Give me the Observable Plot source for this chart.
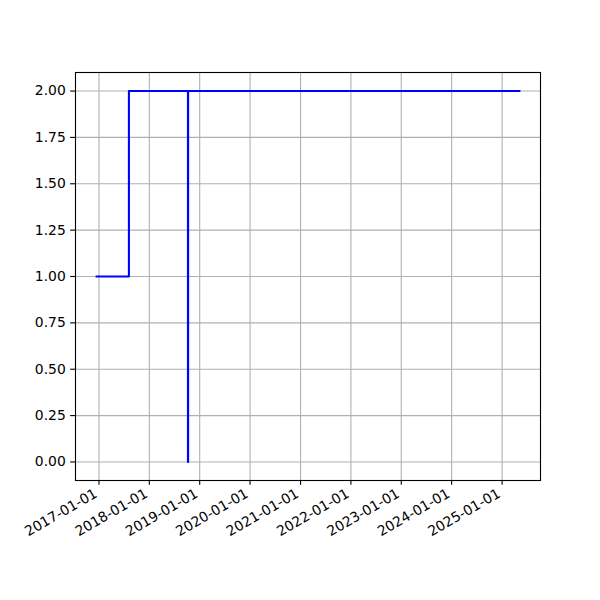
<!DOCTYPE html>
<html>
<head>
<meta charset="utf-8">
<script src="https://cdn.jsdelivr.net/npm/d3@7"></script>
<script src="https://cdn.jsdelivr.net/npm/@observablehq/plot@0.6"></script>
<style>
  html, body { margin: 0; padding: 0; background: white; }
  #chart { width: 600px; height: 600px; }
</style>
</head>
<body>
<div id="chart"></div>
<script>
// Data
const dates = ["2016-12-15", "2017-08-06", "2018-10-08", "2018-10-09", "2025-05-06"];
const values = [1, 2, 0, 2, 2];
const xTickLabels = ["2017-01-01", "2018-01-01", "2019-01-01", "2020-01-01", "2021-01-01",
                     "2022-01-01", "2023-01-01", "2024-01-01", "2025-01-01"];
const yTickValues = [0, 0.25, 0.5, 0.75, 1.0, 1.25, 1.5, 1.75, 2.0];

const parse = d3.utcParse("%Y-%m-%d");
const data = dates.map((d, i) => ({date: parse(d), value: values[i]}));
const xTicks = xTickLabels.map(parse);

// matplotlib-like 5% margins
const [x0, x1] = d3.extent(data, d => d.date);
const xpad = (x1 - x0) * 0.05;
const xDomain = [new Date(+x0 - xpad), new Date(+x1 + xpad)];
const [y0, y1] = d3.extent(values);
const ypad = (y1 - y0) * 0.05;
const yDomain = [y0 - ypad, y1 + ypad];

const gridStyle = {stroke: "#b0b0b0", strokeOpacity: 1, strokeWidth: 1.1};

const chart = Plot.plot({
  width: 600,
  height: 600,
  marginLeft: 75,
  marginRight: 60,
  marginTop: 72,
  marginBottom: 120,
  style: {fontFamily: "DejaVu Sans", fontSize: "13.9px", background: "white", color: "black"},
  x: {type: "utc", domain: xDomain},
  y: {domain: yDomain},
  marks: [
    Plot.gridX(xTicks, {...gridStyle}),
    Plot.gridY(yTickValues, {...gridStyle}),
    Plot.line(data, {x: "date", y: "value", curve: "step-after", stroke: "blue", strokeWidth: 2.08, strokeLinecap: "square", strokeLinejoin: "round"}),
    Plot.frame({stroke: "black", strokeWidth: 1.1}),
    Plot.axisY(yTickValues, {tickFormat: d3.format(".2f"), tickSize: 4.86, tickPadding: 4.86, label: null, strokeWidth: 1.1}),
    Plot.axisX(xTicks, {tickFormat: d3.utcFormat("%Y-%m-%d"), tickRotate: -30, tickSize: 4.86, tickPadding: 4, label: null, strokeWidth: 1.1, textStroke: null}),
  ]
});
// shift rotated x tick labels to match right-aligned bounding box placement
chart.querySelectorAll("g[aria-label='x-axis tick label'] text").forEach(t => {
  const tr = t.getAttribute("transform") || "";
  t.setAttribute("transform", "translate(-3,3) " + tr);
});
document.getElementById("chart").appendChild(chart);
</script>
</body>
</html>
